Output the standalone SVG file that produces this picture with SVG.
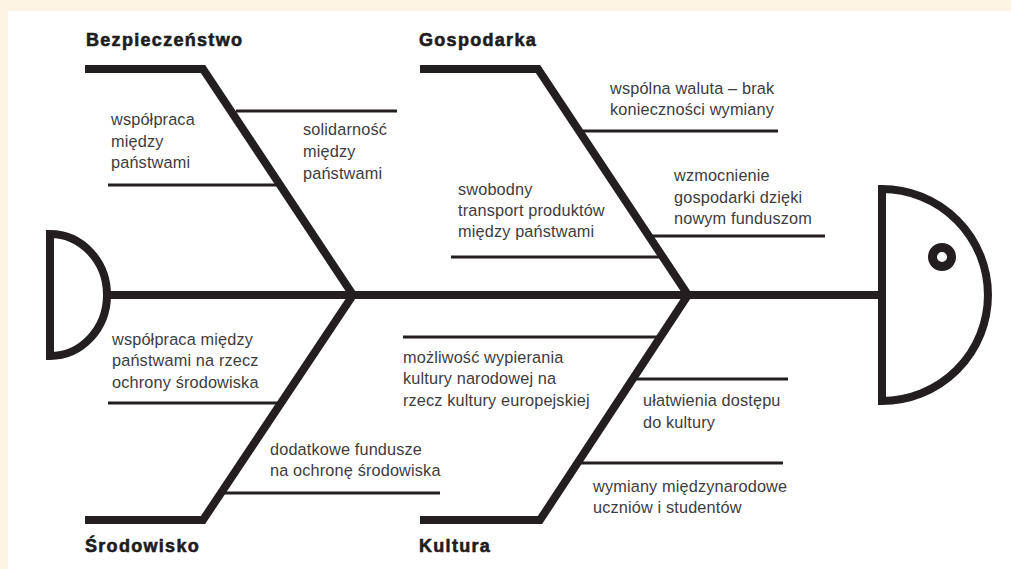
<svg xmlns="http://www.w3.org/2000/svg" width="1011" height="569" viewBox="0 0 1011 569">
<style>
.bone{fill:none;stroke:#231f20;stroke-width:8;stroke-linejoin:miter}
.sub{fill:none;stroke:#231f20;stroke-width:3}
.shape{fill:#fff;stroke:#231f20;stroke-width:8}
.title{font-family:"Liberation Sans",Arial,sans-serif;font-weight:bold;font-size:18px;letter-spacing:1.3px;fill:#1e1c1d;stroke:#1e1c1d;stroke-width:0.6}
.txt{font-family:"Liberation Sans",Arial,sans-serif;font-size:16.3px;letter-spacing:0.15px;fill:#3d3c3e}
</style>
<rect x="0" y="0" width="1011" height="569" fill="#fdf4e3"/>
<rect x="8" y="11" width="1003" height="558" fill="#ffffff"/>

<g id="connectors">
  <line class="bone" x1="108" y1="295" x2="882" y2="295"/>
  <polyline class="bone" points="85,69 203,69 353,295"/>
  <polyline class="bone" points="420,69 538,69 688,295"/>
  <polyline class="bone" points="85,520 203,520 353,295"/>
  <polyline class="bone" points="420,520 540,520 688,295"/>
  <line class="sub" x1="236" y1="111" x2="397" y2="111"/>
  <line class="sub" x1="108" y1="185" x2="280" y2="185"/>
  <line class="sub" x1="580" y1="131" x2="778" y2="131"/>
  <line class="sub" x1="650" y1="236" x2="825" y2="236"/>
  <line class="sub" x1="451" y1="257" x2="662" y2="257"/>
  <line class="sub" x1="108" y1="403" x2="281" y2="403"/>
  <line class="sub" x1="222" y1="493" x2="440" y2="493"/>
  <line class="sub" x1="403" y1="337" x2="660" y2="337"/>
  <line class="sub" x1="633" y1="379" x2="788" y2="379"/>
  <line class="sub" x1="578" y1="463" x2="783" y2="463"/>
</g>

<g id="tail">
  <path class="shape" d="M50,234 A57,61 0 0 1 50,356 Z"/>
</g>
<g id="head">
  <path class="shape" d="M882,189 A106,106 0 0 1 882,401 Z"/>
  <circle cx="942" cy="257" r="9.5" fill="none" stroke="#231f20" stroke-width="9"/>
</g>

<g id="cat-bezpieczenstwo"><text class="title" x="86" y="46">Bezpieczeństwo</text></g>
<g id="cat-gospodarka"><text class="title" x="419" y="46">Gospodarka</text></g>
<g id="cat-srodowisko"><text class="title" x="85" y="552">Środowisko</text></g>
<g id="cat-kultura"><text class="title" x="419" y="552">Kultura</text></g>

<g id="b1"><text class="txt" x="111"><tspan x="111" y="125">współpraca</tspan><tspan x="111" y="147">między</tspan><tspan x="111" y="168">państwami</tspan></text></g>
<g id="b2"><text class="txt" x="303"><tspan x="303" y="135">solidarność</tspan><tspan x="303" y="157">między</tspan><tspan x="303" y="179">państwami</tspan></text></g>

<g id="g1"><text class="txt" x="610"><tspan x="610" y="94">wspólna waluta – brak</tspan><tspan x="610" y="115">konieczności wymiany</tspan></text></g>
<g id="g2"><text class="txt" x="674"><tspan x="674" y="181">wzmocnienie</tspan><tspan x="674" y="203">gospodarki dzięki</tspan><tspan x="674" y="224">nowym funduszom</tspan></text></g>
<g id="g3"><text class="txt" x="458"><tspan x="458" y="195">swobodny</tspan><tspan x="458" y="216">transport produktów</tspan><tspan x="458" y="237">między państwami</tspan></text></g>

<g id="s1"><text class="txt" x="112"><tspan x="112" y="345">współpraca między</tspan><tspan x="112" y="366">państwami na rzecz</tspan><tspan x="112" y="388">ochrony środowiska</tspan></text></g>
<g id="s2"><text class="txt" x="270"><tspan x="270" y="455">dodatkowe fundusze</tspan><tspan x="270" y="476">na ochronę środowiska</tspan></text></g>

<g id="k1"><text class="txt" x="403"><tspan x="403" y="363">możliwość wypierania</tspan><tspan x="403" y="384">kultury narodowej na</tspan><tspan x="403" y="406">rzecz kultury europejskiej</tspan></text></g>
<g id="k2"><text class="txt" x="643"><tspan x="643" y="406">ułatwienia dostępu</tspan><tspan x="643" y="428">do kultury</tspan></text></g>
<g id="k3"><text class="txt" x="593"><tspan x="593" y="492">wymiany międzynarodowe</tspan><tspan x="593" y="513">uczniów i studentów</tspan></text></g>
</svg>
